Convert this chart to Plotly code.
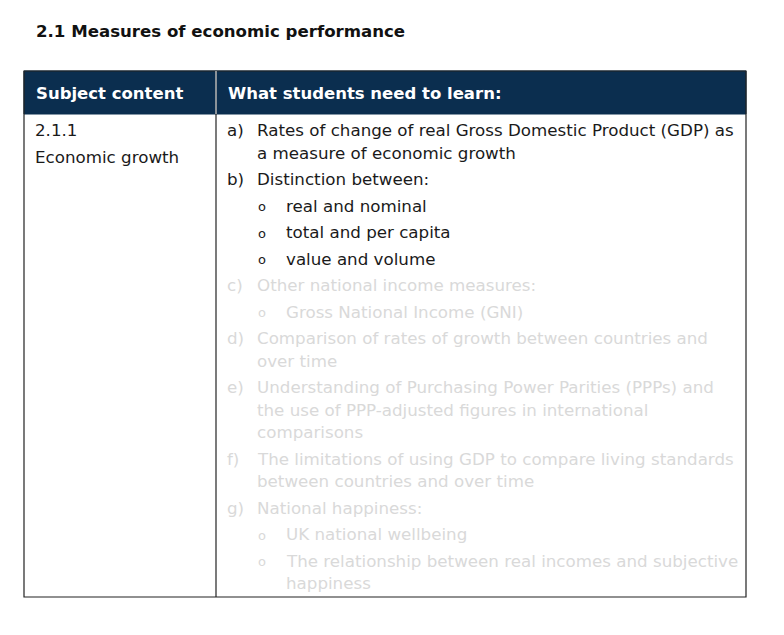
import plotly.graph_objects as go

title = "2.1 Measures of economic performance"
headers = ["Subject content", "What students need to learn:"]
subject_lines = ["2.1.1", "Economic growth"]
# (label, text, level, continuation, faded)
learn_lines = [
    ("a)", "Rates of change of real Gross Domestic Product (GDP) as", 0, False, False),
    ("", "a measure of economic growth", 0, True, False),
    ("b)", "Distinction between:", 0, False, False),
    ("o", "real and nominal", 1, False, False),
    ("o", "total and per capita", 1, False, False),
    ("o", "value and volume", 1, False, False),
    ("c)", "Other national income measures:", 0, False, True),
    ("o", "Gross National Income (GNI)", 1, False, True),
    ("d)", "Comparison of rates of growth between countries and", 0, False, True),
    ("", "over time", 0, True, True),
    ("e)", "Understanding of Purchasing Power Parities (PPPs) and", 0, False, True),
    ("", "the use of PPP-adjusted figures in international", 0, True, True),
    ("", "comparisons", 0, True, True),
    ("f)", "The limitations of using GDP to compare living standards", 0, False, True),
    ("", "between countries and over time", 0, True, True),
    ("g)", "National happiness:", 0, False, True),
    ("o", "UK national wellbeing", 1, False, True),
    ("o", "The relationship between real incomes and subjective", 1, False, True),
    ("", "happiness", 1, True, True),
]

FONT = "DejaVu Sans"
NAVY = "#0b2e4f"
DARK = "#1a1a1a"
FADE = "#d9d9d9"
L, R, MID, TOP, HB, BOT = 24, 746, 216, 71, 114, 597
FS = 16.7

fig = go.Figure()
shapes = [
    dict(type="rect", x0=L, x1=R, y0=TOP, y1=HB, fillcolor=NAVY, line=dict(color=NAVY, width=1)),
    dict(type="rect", x0=L, x1=R, y0=TOP, y1=BOT, line=dict(color="#222", width=1.2)),
    dict(type="line", x0=MID, x1=MID, y0=TOP, y1=BOT, line=dict(color="#222", width=1.2)),
    dict(type="line", x0=MID, x1=MID, y0=TOP, y1=HB, line=dict(color="#ffffff", width=1)),
]
ann = []
ann.append(dict(x=34, y=31, text="<b>%s</b>" % title, font=dict(size=16.6, color="#111")))
ann.append(dict(x=34, y=93, text="<b>%s</b>" % headers[0], font=dict(size=16.5, color="white")))
ann.append(dict(x=226, y=93, text="<b>%s</b>" % headers[1], font=dict(size=16.5, color="white")))
for i, s in enumerate(subject_lines):
    ann.append(dict(x=33, y=130 + 26.5 * i, text=s, font=dict(size=FS, color=DARK)))
y = 130
for i, (lab, txt, lvl, cont, faded) in enumerate(learn_lines):
    if i > 0:
        y += 22.5 if cont else 26.5
    col = FADE if faded else DARK
    if lvl == 0:
        lx, tx, ls = 225, 255, FS
    else:
        lx, tx, ls = 256, 284, 13
    if lab:
        ann.append(dict(x=lx, y=y + (1 if lvl else 0), text=lab, font=dict(size=ls, color=col)))
    ann.append(dict(x=tx, y=y, text=txt, font=dict(size=FS, color=col)))
for a in ann:
    a.update(xref="x", yref="y", xanchor="left", yanchor="middle", showarrow=False)
    a["font"]["family"] = FONT

fig.update_layout(
    width=784, height=635, margin=dict(l=0, r=0, t=0, b=0),
    paper_bgcolor="white", plot_bgcolor="white",
    xaxis=dict(range=[8, 792], visible=False, fixedrange=True),
    yaxis=dict(range=[643, 8], visible=False, fixedrange=True),
    shapes=shapes, annotations=ann, showlegend=False,
)
fig.write_html("out.html")
